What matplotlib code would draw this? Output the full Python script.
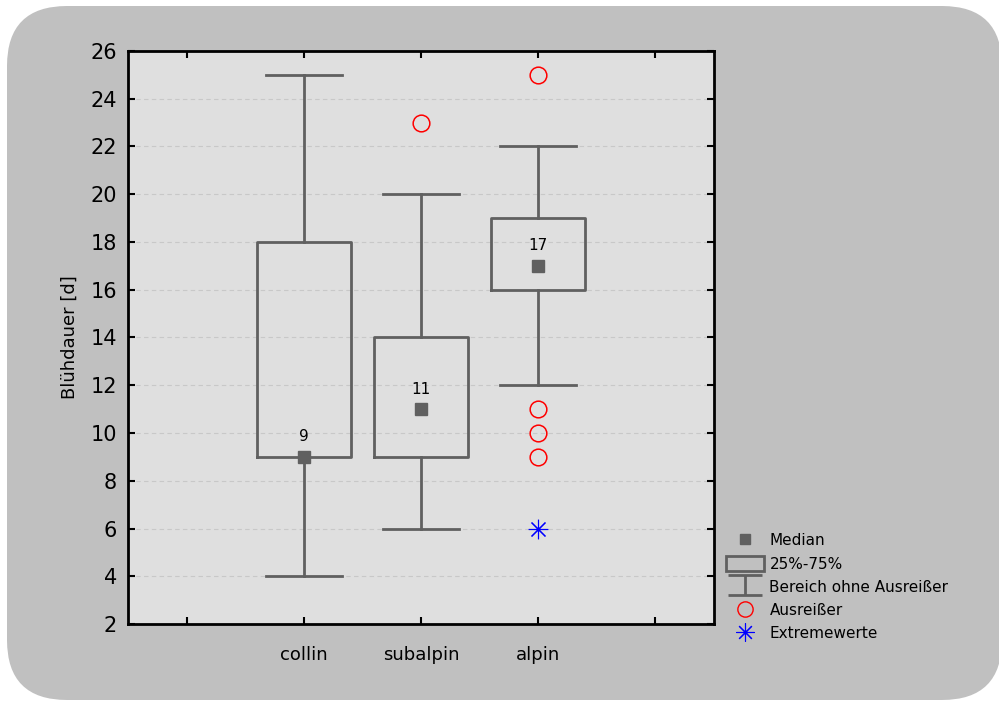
import matplotlib
matplotlib.use("Agg")
import matplotlib.pyplot as plt
from matplotlib.lines import Line2D
from matplotlib.patches import Patch, FancyBboxPatch
from matplotlib.path import Path

# Daten
kategorien = ["collin", "subalpin", "alpin"]
median = [9, 11, 17]
q1 = [9, 9, 16]
q3 = [18, 14, 19]
whisker_min = [4, 6, 12]
whisker_max = [25, 20, 22]
ausreisser = [[], [23], [25, 11, 10, 9]]
extremwerte = [[], [], [6]]

grau = "#606060"

fig = plt.figure(figsize=(9.99, 7.04), dpi=100)
fig.patch.set_facecolor("white")

# grauer Hintergrund mit runden Ecken
hintergrund = FancyBboxPatch(
    (0.07, 0.04), 9.95, 6.94,
    boxstyle="round,pad=0,rounding_size=0.6",
    transform=fig.dpi_scale_trans,
    facecolor="#c0c0c0", edgecolor="none", zorder=-10,
)
fig.patches.append(hintergrund)

ax = fig.add_axes([0.1281, 0.1136, 0.5866, 0.814])
ax.set_facecolor("#dfdfdf")

positionen = [1, 2, 3]
stats = []
for i, name in enumerate(kategorien):
    stats.append({
        "label": name,
        "med": median[i],
        "q1": q1[i],
        "q3": q3[i],
        "whislo": whisker_min[i],
        "whishi": whisker_max[i],
        "fliers": [],
    })

ax.bxp(
    stats, positions=positionen, widths=0.8, capwidths=0.65,
    showfliers=False, patch_artist=False,
    boxprops=dict(color=grau, linewidth=2),
    whiskerprops=dict(color=grau, linewidth=2),
    capprops=dict(color=grau, linewidth=2),
    medianprops=dict(linewidth=0),
    zorder=3,
)

# Median-Punkte und Beschriftung
ax.plot(positionen, median, "s", color=grau, markersize=8, zorder=4)
for x, m in zip(positionen, median):
    ax.annotate(str(m), (x, m), xytext=(0, 9), textcoords="offset points",
                ha="center", va="bottom", fontsize=11, color="black")

# Ausreißer und Extremwerte
for x, werte in zip(positionen, ausreisser):
    if werte:
        ax.plot([x] * len(werte), werte, "o", mfc="none", mec="red",
                markersize=12, mew=1.1, zorder=4)
for x, werte in zip(positionen, extremwerte):
    if werte:
        ax.plot([x] * len(werte), werte, marker=(8, 2, 0), linestyle="none",
                color="blue", markersize=14, mew=0.8, zorder=4)

ax.set_xlim(-0.5, 4.5)
ax.set_ylim(2, 26)
ax.set_yticks(range(2, 27, 2))
ax.set_xticks([0, 1, 2, 3, 4])
ax.set_xticklabels(["", "collin", "subalpin", "alpin", ""], fontsize=13)
ax.tick_params(axis="y", labelsize=15)
ax.tick_params(direction="in", length=5, width=1.5, top=True, right=True, pad=8)
ax.tick_params(axis="x", pad=16)
ax.yaxis.grid(True, linestyle=(0, (4, 3)), color="#c8c8c8", linewidth=0.8)
ax.set_axisbelow(True)
for spine in ax.spines.values():
    spine.set_linewidth(2)
    spine.set_color("black")

ax.set_ylabel("Blühdauer [d]", fontsize=13, labelpad=8)

# Legende
ibalken = Path(
    [(-1.6, 1), (1.6, 1), (0, 1), (0, -1), (-1.6, -1), (1.6, -1)],
    [Path.MOVETO, Path.LINETO, Path.MOVETO, Path.LINETO, Path.MOVETO, Path.LINETO],
)
handles = [
    Line2D([], [], marker="s", color=grau, linestyle="none", markersize=7),
    Patch(facecolor="none", edgecolor=grau, linewidth=2),
    Line2D([], [], marker=ibalken, color=grau, linestyle="none",
           markersize=24, mew=2),
    Line2D([], [], marker="o", mfc="none", mec="red", linestyle="none",
           markersize=11),
    Line2D([], [], marker=(8, 2, 0), color="blue", linestyle="none",
           markersize=13, mew=0.8),
]
labels = ["Median", "25%-75%", "Bereich ohne Ausreißer", "Ausreißer", "Extremewerte"]
fig.legend(handles, labels, loc="upper left", bbox_to_anchor=(0.719, 0.254),
           frameon=False, fontsize=11, handlelength=2.5, handleheight=1.1,
           handletextpad=0.35, labelspacing=0.5, borderpad=0)

fig.savefig("out.png", dpi=100, facecolor=fig.get_facecolor())
